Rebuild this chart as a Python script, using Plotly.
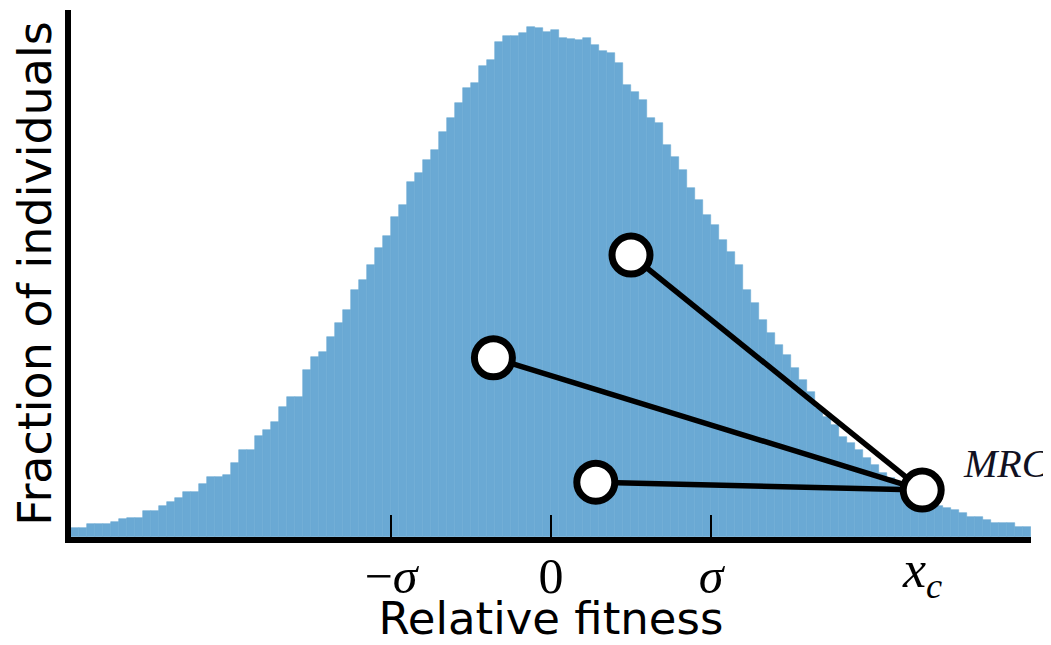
import numpy as np
import plotly.graph_objects as go

# ---- data (relative fitness in units of sigma) ----
bin_start = -3.0
bin_width = 0.05
fraction = [
    0.017, 0.017, 0.025, 0.025, 0.025, 0.028, 0.034, 0.036, 0.036, 0.049,
    0.049, 0.059, 0.066, 0.074, 0.085, 0.085, 0.101, 0.114, 0.114, 0.118,
    0.140, 0.165, 0.165, 0.192, 0.203, 0.218, 0.247, 0.266, 0.266, 0.317,
    0.342, 0.351, 0.380, 0.406, 0.431, 0.469, 0.488, 0.516, 0.548, 0.571,
    0.607, 0.630, 0.674, 0.691, 0.715, 0.734, 0.769, 0.795, 0.824, 0.852,
    0.861, 0.894, 0.905, 0.939, 0.951, 0.951, 0.956, 0.968, 0.966, 0.958,
    0.962, 0.947, 0.945, 0.943, 0.947, 0.934, 0.922, 0.918, 0.899, 0.858,
    0.844, 0.829, 0.795, 0.786, 0.744, 0.721, 0.696, 0.662, 0.639, 0.611,
    0.592, 0.564, 0.541, 0.516, 0.469, 0.444, 0.412, 0.387, 0.364, 0.345,
    0.321, 0.298, 0.275, 0.245, 0.228, 0.213, 0.190, 0.178, 0.165, 0.150,
    0.137, 0.121, 0.112, 0.101, 0.089, 0.080, 0.072, 0.065, 0.059, 0.055,
    0.051, 0.046, 0.038, 0.038, 0.032, 0.027, 0.027, 0.027, 0.019, 0.019,
]

lineage_x = [0.50, -0.36, 0.28]
lineage_y = [0.535, 0.340, 0.104]
mrca_x = 2.32
mrca_y = 0.089
mrca_label = "MRCA"

tick_vals = [-1.0, 0.0, 1.0]
tick_text = ["\u2212<i>\u03c3</i>", "0", "<i>\u03c3</i>"]
xc_label = "<i>x<sub>c</sub></i>"

x_title = "Relative fitness"
y_title = "Fraction of individuals"

# ---- figure ----
centers = bin_start + bin_width * (np.arange(len(fraction)) + 0.5)
hist_color = "#6aa9d4"

fig = go.Figure()
fig.add_trace(go.Bar(
    x=centers, y=fraction, width=bin_width,
    marker=dict(color=hist_color, line=dict(color=hist_color, width=0.6)),
    showlegend=False, hoverinfo="skip",
))

for lx, ly in zip(lineage_x, lineage_y):
    fig.add_trace(go.Scatter(
        x=[lx, mrca_x], y=[ly, mrca_y], mode="lines",
        line=dict(color="black", width=5.5), showlegend=False,
    ))

fig.add_trace(go.Scatter(
    x=lineage_x + [mrca_x], y=lineage_y + [mrca_y], mode="markers",
    marker=dict(size=38, color="white", line=dict(color="black", width=7)),
    showlegend=False, cliponaxis=False,
))

fig.add_annotation(
    x=mrca_x, xref="x", y=0, yref="paper", yshift=-36,
    text=xc_label, showarrow=False, xanchor="center", yanchor="middle",
    font=dict(family="Liberation Serif", size=52, color="black"),
)
fig.add_annotation(
    x=2.56, xref="x", y=0.14, yref="y",
    text="<i>" + mrca_label + "</i>", showarrow=False,
    xanchor="left", yanchor="middle",
    font=dict(family="Liberation Serif", size=40, color="#111122"),
)

# the page body adds an 8 px offset, so the figure is 8 px smaller each way
fig.update_layout(
    width=1043, height=637,
    margin=dict(l=63, r=20, t=2, b=108, autoexpand=False),
    plot_bgcolor="white", paper_bgcolor="white",
    bargap=0,
    xaxis=dict(
        range=[-3, 3], showgrid=False, zeroline=False, automargin=False,
        showline=True, linecolor="black", linewidth=6,
        tickmode="array", tickvals=tick_vals, ticktext=tick_text,
        ticks="inside", ticklen=22, tickwidth=2, tickcolor="black",
        tickfont=dict(family="Liberation Serif", size=50, color="black"),
        ticklabelstandoff=-10,
        title=dict(text=x_title, standoff=22,
                   font=dict(family="DejaVu Sans", size=45, color="black")),
    ),
    yaxis=dict(
        range=[0, 1], showgrid=False, zeroline=False, automargin=False,
        showline=True, linecolor="black", linewidth=6,
        showticklabels=False, ticks="",
        title=dict(text=y_title, standoff=5,
                   font=dict(family="DejaVu Sans", size=46, color="black")),
    ),
)

fig.write_html("out.html")
